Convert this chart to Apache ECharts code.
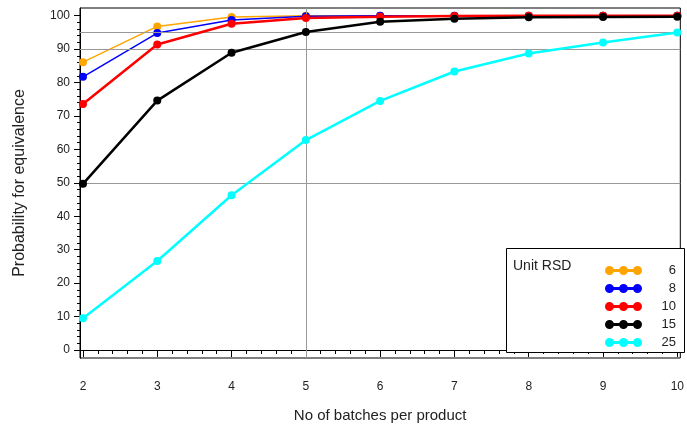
<!DOCTYPE html>
<html>
<head>
<meta charset="utf-8">
<script src="https://cdn.jsdelivr.net/npm/echarts@6/dist/echarts.min.js"></script>
<style>
  html, body { margin: 0; padding: 0; background: #fff; }
  #chart { width: 687px; height: 428px; }
</style>
</head>
<body>
<div id="chart"></div>
<script>
// batches per product
var batches = [2, 3, 4, 5, 6, 7, 8, 9, 10];
var rsdNames = ['6', '8', '10', '15', '25'];
var rsd6 = [86.1, 96.8, 99.6, 100, 100, 100, 100, 100, 100];
var rsd8 = [81.7, 94.8, 98.7, 99.8, 100, 100, 100, 100, 100];
var rsd10 = [73.6, 91.4, 97.6, 99.3, 99.7, 99.9, 100, 100, 100];
var rsd15 = [49.7, 74.6, 88.9, 95.1, 98.2, 99.1, 99.5, 99.6, 99.7];
var rsd25 = [9.5, 26.6, 46.3, 62.8, 74.5, 83.3, 88.7, 92.0, 95.0];
var yTicks = [0, 10, 20, 30, 40, 50, 60, 70, 80, 90, 100];
var xTicks = [2, 3, 4, 5, 6, 7, 8, 9, 10];
var refY = [50, 90, 95];
var refX = 5;

var colors = ['#FFA500', '#0000FF', '#FF0000', '#000000', '#00FFFF'];
var widths = [1.5, 1.5, 2.5, 2.5, 2.5];
var allData = [rsd6, rsd8, rsd10, rsd15, rsd25];

var yMinor = [];
for (var v = 2; v < 100; v += 2) if (v % 10) yMinor.push(v);
var xMinor = [];
for (var i = 2; i < 10; i++) for (var k = 1; k < 5; k++) xMinor.push(+(i + k * 0.2).toFixed(1));

// line with three dots
var legendIcon = 'path://M4,3.6 h29 v2.8 h-29 z M0,5 a4.5,4.5 0 1,1 9,0 a4.5,4.5 0 1,1 -9,0 z M14,5 a4.5,4.5 0 1,1 9,0 a4.5,4.5 0 1,1 -9,0 z M28,5 a4.5,4.5 0 1,1 9,0 a4.5,4.5 0 1,1 -9,0 z';

var font = 'Liberation Sans, Arial, sans-serif';
var txt = '#222';

var series = allData.map(function (d, idx) {
    return {
        name: rsdNames[idx],
        type: 'line',
        data: batches.map(function (b, j) { return [b, d[j]]; }),
        symbol: 'circle',
        symbolSize: 8,
        lineStyle: { color: colors[idx], width: widths[idx] },
        itemStyle: { color: colors[idx] },
        z: 3 + idx
    };
});

series.unshift({
    type: 'line',
    data: [],
    silent: true,
    markLine: {
        silent: true,
        symbol: ['none', 'none'],
        label: { show: false },
        lineStyle: { color: '#999', width: 1, type: 'solid' },
        data: refY.map(function (y) { return { yAxis: y }; }).concat([{ xAxis: refX }])
    },
    z: 1
});

var dom = document.getElementById('chart');
var myChart = echarts.init(dom, null, { renderer: 'canvas' });

var option = {
    animation: false,
    grid: { left: 80, right: 0, top: 8, bottom: 70, show: true, borderColor: '#000', borderWidth: 1 },
    legend: {
        orient: 'vertical',
        left: 600,
        top: 259,
        z: 20,
        itemWidth: 37,
        itemHeight: 10,
        itemGap: 5,
        icon: legendIcon,
        itemStyle: { borderWidth: 0 },
        data: rsdNames,
        formatter: function (n) { return '{a|' + n + '}'; },
        textStyle: {
            fontFamily: font, fontSize: 12, color: txt,
            rich: { a: { width: 29, align: 'right', fontFamily: font, fontSize: 13, color: txt } }
        }
    },
    graphic: [
        { type: 'rect', left: 506, top: 248, shape: { width: 178, height: 104 },
          style: { fill: '#fff', stroke: '#000', lineWidth: 1 }, z: 10 },
        { type: 'text', left: 513, top: 259, style: { text: 'Unit RSD', fontFamily: font, fontSize: 14, fill: txt }, z: 11 }
    ],
    xAxis: [{
        type: 'value', min: 1.96, max: 10.04,
        name: 'No of batches per product', nameLocation: 'middle', nameGap: 50,
        nameTextStyle: { fontFamily: font, fontSize: 15, color: txt },
        axisLine: { lineStyle: { color: '#000' } },
        axisTick: { customValues: xTicks, length: 7, lineStyle: { color: '#000' } },
        axisLabel: { customValues: xTicks, margin: 23, fontFamily: font, fontSize: 12, color: txt },
        splitLine: { show: false }
    }, {
        type: 'value', min: 1.96, max: 10.04, position: 'bottom',
        axisLine: { show: false },
        axisTick: { customValues: xMinor, length: 4, lineStyle: { color: '#000' } },
        axisLabel: { show: false },
        splitLine: { show: false }
    }],
    yAxis: [{
        type: 'value', min: -2.4, max: 102.3,
        name: 'Probability for equivalence', nameLocation: 'middle', nameGap: 52,
        nameTextStyle: { fontFamily: font, fontSize: 16, color: txt },
        axisLine: { show: true, lineStyle: { color: '#000' } },
        axisTick: { show: true, customValues: yTicks, length: 6, lineStyle: { color: '#000' } },
        axisLabel: { customValues: yTicks, margin: 10, fontFamily: font, fontSize: 12, color: txt },
        splitLine: { show: false }
    }, {
        type: 'value', min: -2.4, max: 102.3, position: 'left',
        axisLine: { show: false },
        axisTick: { show: true, customValues: yMinor, length: 3, lineStyle: { color: '#000' } },
        axisLabel: { show: false },
        splitLine: { show: false }
    }],
    series: series
};

myChart.setOption(option);
window.addEventListener('resize', myChart.resize);
</script>
</body>
</html>
